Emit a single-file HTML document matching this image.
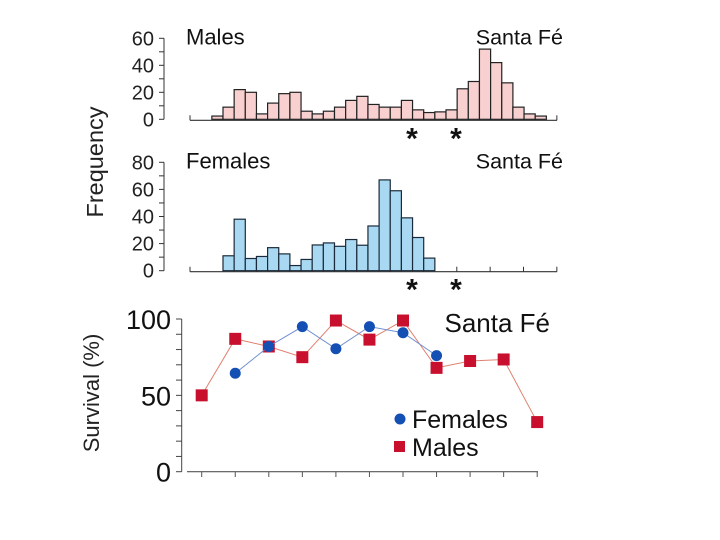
<!DOCTYPE html>
<html><head><meta charset="utf-8"><style>
body{margin:0;background:#fff;width:720px;height:540px;overflow:hidden}
svg{display:block;font-family:"Liberation Sans",sans-serif}
</style></head><body>
<svg id="c" width="720" height="540"></svg>
<script>
const maleFreq=[2.4,9,22,20,4,12,19,20,6,4,6,9,14,17,11,9,9,14,7,5,5.5,7,22.6,28,52,42,27,9,4,2.4];
const femaleFreq=[11,38,9,10.5,17,12.4,3.8,8.3,19,20.5,18,23,18.8,33,67,59,39,24.5,9.3];
const maleFreqTicks=[0,20,40,60];
const femaleFreqTicks=[0,20,40,60,80];
const survTicks=[0,50,100];
const maleSurv=[50,87,82,75,99,86.5,99,68,72.5,73.5,32.5];
const femaleSurv=[null,64.5,82,95,80.5,95,91,76,null,null,null];
const NS="http://www.w3.org/2000/svg";
const svg=document.getElementById('c');
function el(t,a,txt){const e=document.createElementNS(NS,t);for(const k in a)e.setAttribute(k,a[k]);if(txt!=null)e.textContent=txt;svg.appendChild(e);return e;}
const binW=11.15, x0=223-binW;
const hx=i=>x0+i*binW;
function hist(base,top,maxV,ticks,vals,start,fill,stroke,name,label){
  const ys=v=>base-v*(base-top)/maxV;
  let a=el('line',{x1:164,y1:top,x2:164,y2:base,stroke:'#333','stroke-width':1});
  
  for(let v=0;v<=maxV;v+=10){el('line',{x1:159,y1:ys(v),x2:164,y2:ys(v),stroke:'#333','stroke-width':1});}
  ticks.forEach(v=>{const t=el('text',{x:154,y:ys(v)+7,'text-anchor':'end','font-size':20,fill:'#222'},v);
    });
  const ax=el('line',{x1:190,y1:base+1,x2:557,y2:base+1,stroke:'#333','stroke-width':1.2});
  
  for(let k=0;k<12;k++){const x=190+k*33.35;el('line',{x1:x,y1:base+1,x2:x,y2:base-4,stroke:'#333','stroke-width':1});}
  vals.forEach((v,i)=>{const r=el('rect',{x:hx(start+i),y:ys(v),width:binW,height:base-ys(v),fill:fill,stroke:stroke,'stroke-width':1.2});
    });
  const t1=el('text',{x:186,y:top+6,'font-size':22,fill:'#111'},label);
  
  const t2=el('text',{x:563,y:top+6,'text-anchor':'end','font-size':21.5,fill:'#111'},'Santa Fé');
  
  [412,456].forEach(px=>{const s=el('text',{x:px,y:base+29,'text-anchor':'middle','font-size':30,'font-weight':'bold',fill:'#111'},'*');
    });
}
hist(119.3,38.3,60,maleFreqTicks,maleFreq,0,'#f9d0d0','#222','males',"Males");
hist(270.7,162.3,80,femaleFreqTicks,femaleFreq,1,'#a9d9f2','#1a2a3a','females',"Females");
let f=el('text',{x:0,y:0,'font-size':23.5,'text-anchor':'middle',fill:'#222',transform:'translate(103,162) rotate(-90)'},'Frequency');

const sb=471.7, st=319;
const sy=v=>sb-v*(sb-st)/100;
const sx=i=>201.7+i*33.55;
let ya=el('line',{x1:181.7,y1:st,x2:181.7,y2:sb,stroke:'#444','stroke-width':1});

for(let v=0;v<=100;v+=10)el('line',{x1:176,y1:sy(v),x2:181.7,y2:sy(v),stroke:'#444','stroke-width':1});
survTicks.forEach(v=>{const t=el('text',{x:171,y:sy(v)+10,'text-anchor':'end','font-size':27,fill:'#111'},v);
  });
let xa=el('line',{x1:187,y1:471.7,x2:538,y2:471.7,stroke:'#555','stroke-width':1.2});

for(let i=0;i<11;i++)el('line',{x1:sx(i),y1:471.7,x2:sx(i),y2:477,stroke:'#555','stroke-width':1});
function series(vals,color,mcolor,name,shape){
  let d='';vals.forEach((v,i)=>{if(v==null)return;d+=(d?'L':'M')+sx(i)+','+sy(v);});
  const p=el('path',{d:d,fill:'none',stroke:color,'stroke-width':1});
  
  vals.forEach((v,i)=>{if(v==null)return;let m;
    if(shape==='c')m=el('circle',{cx:sx(i),cy:sy(v),r:5.5,fill:mcolor});
    else m=el('rect',{x:sx(i)-6,y:sy(v)-6,width:12,height:12,fill:mcolor});
    });
}
series(maleSurv,'#e08070','#c8102e','males-survival','s');
series(femaleSurv,'#7090d0','#1450b4','females-survival','c');
let sf=el('text',{x:550,y:332,'text-anchor':'end','font-size':26,fill:'#111'},'Santa Fé');

let lc=el('circle',{cx:400,cy:419,r:5.5,fill:'#1450b4'});

let lt=el('text',{x:412,y:428,'font-size':25,fill:'#111'},'Females');

let ls=el('rect',{x:394,y:441,width:11,height:11,fill:'#c8102e'});

let lm=el('text',{x:412,y:456,'font-size':25,fill:'#111'},'Males');

let s2=el('text',{x:0,y:0,'font-size':22,'text-anchor':'middle',fill:'#222',transform:'translate(99,393) rotate(-90)'},'Survival (%)');

</script>
</body></html>
